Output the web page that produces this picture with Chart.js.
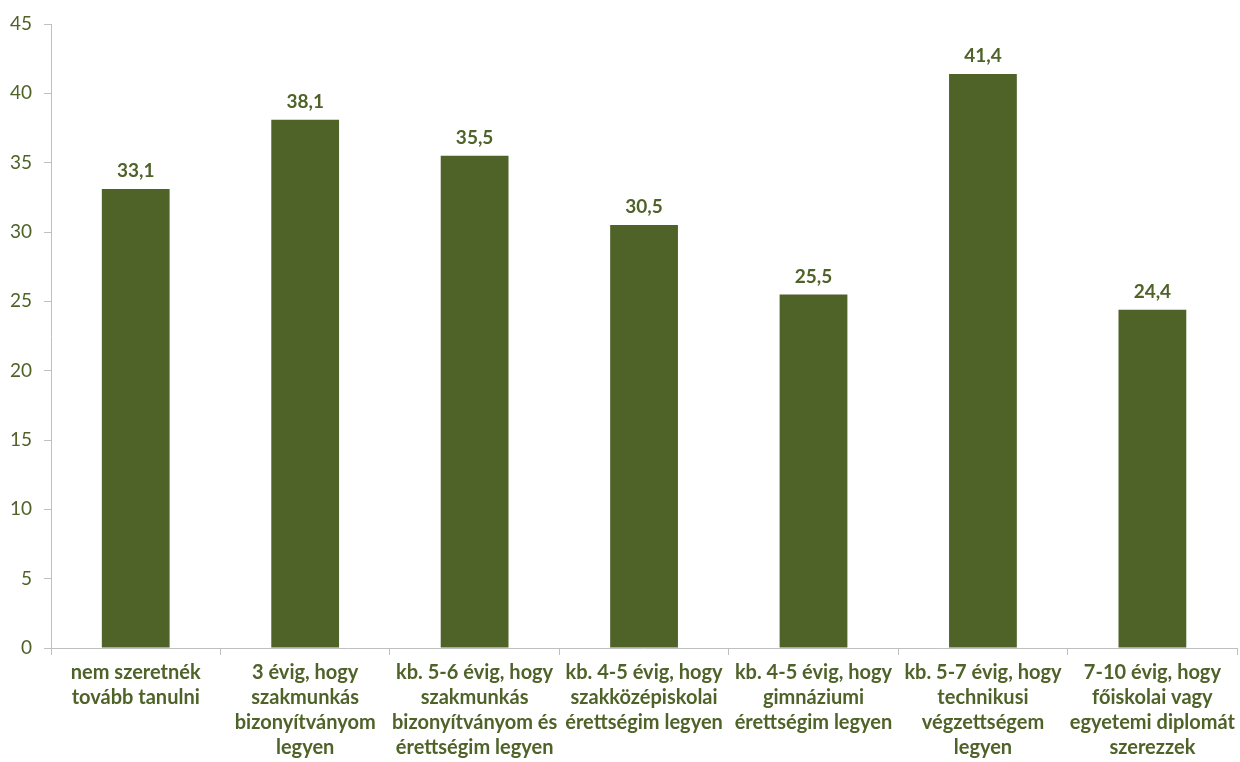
<!DOCTYPE html>
<html>
<head>
<meta charset="utf-8">
<script src="https://cdn.jsdelivr.net/npm/chart.js@4.4.1/dist/chart.umd.min.js"></script>
<style>
  html, body { margin: 0; padding: 0; background: #fff; }
  #wrap { width: 1240px; height: 762px; }
</style>
</head>
<body>
<div id="wrap"><canvas id="chart" width="1240" height="762"></canvas></div>
<script>
// Adatok
const kategoriak = [
  ['nem szeretnék', 'tovább tanulni'],
  ['3 évig, hogy', 'szakmunkás', 'bizonyítványom', 'legyen'],
  ['kb. 5-6 évig, hogy', 'szakmunkás', 'bizonyítványom és', 'érettségim legyen'],
  ['kb. 4-5 évig, hogy', 'szakközépiskolai', 'érettségim legyen'],
  ['kb. 4-5 évig, hogy', 'gimnáziumi', 'érettségim legyen'],
  ['kb. 5-7 évig, hogy', 'technikusi', 'végzettségem', 'legyen'],
  ['7-10 évig, hogy', 'főiskolai vagy', 'egyetemi diplomát', 'szerezzek']
];
const ertekek = [33.1, 38.1, 35.5, 30.5, 25.5, 41.4, 24.4];
const yMin = 0;
const yMax = 45;
const yLepes = 5;

const zold = '#4F6228';
const betu = 'Lato, "Open Sans", sans-serif';

// Értékcímkék a oszlopok fölé
const ertekCimkek = {
  id: 'ertekCimkek',
  afterDatasetsDraw(chart) {
    const ctx = chart.ctx;
    const meta = chart.getDatasetMeta(0);
    ctx.save();
    ctx.font = 'bold 19px ' + betu;
    ctx.fillStyle = zold;
    ctx.textAlign = 'center';
    ctx.textBaseline = 'middle';
    meta.data.forEach((bar, i) => {
      const szoveg = ertekek[i].toFixed(1).replace('.', ',');
      ctx.fillText(szoveg, bar.x, bar.y - 18);
    });
    ctx.restore();
  }
};

new Chart(document.getElementById('chart'), {
  type: 'bar',
  data: {
    labels: kategoriak,
    datasets: [{
      data: ertekek,
      backgroundColor: zold,
      borderWidth: 0,
      categoryPercentage: 1,
      barPercentage: 0.4
    }]
  },
  options: {
    responsive: false,
    animation: false,
    layout: { padding: { top: 24, right: 0, left: 0, bottom: 0 } },
    plugins: {
      legend: { display: false },
      tooltip: { enabled: false }
    },
    scales: {
      x: {
        afterFit(scale) { scale.height = 114; },
        border: { display: true, color: '#BFBFBF', width: 1 },
        grid: {
          offset: true,
          drawOnChartArea: false,
          drawTicks: true,
          tickLength: 7,
          color: '#BFBFBF'
        },
        ticks: {
          color: zold,
          font: { family: betu, size: 20, weight: 'bold', lineHeight: 1.25 },
          padding: 5,
          maxRotation: 0,
          autoSkip: false
        }
      },
      y: {
        min: yMin,
        max: yMax,
        afterFit(scale) { scale.width = 51; },
        border: { display: true, color: '#BFBFBF', width: 1 },
        grid: {
          drawOnChartArea: false,
          drawTicks: true,
          tickLength: 7,
          color: '#BFBFBF'
        },
        ticks: {
          stepSize: yLepes,
          color: zold,
          font: { family: betu, size: 19 },
          padding: 12
        }
      }
    }
  },
  plugins: [ertekCimkek]
});
</script>
</body>
</html>
